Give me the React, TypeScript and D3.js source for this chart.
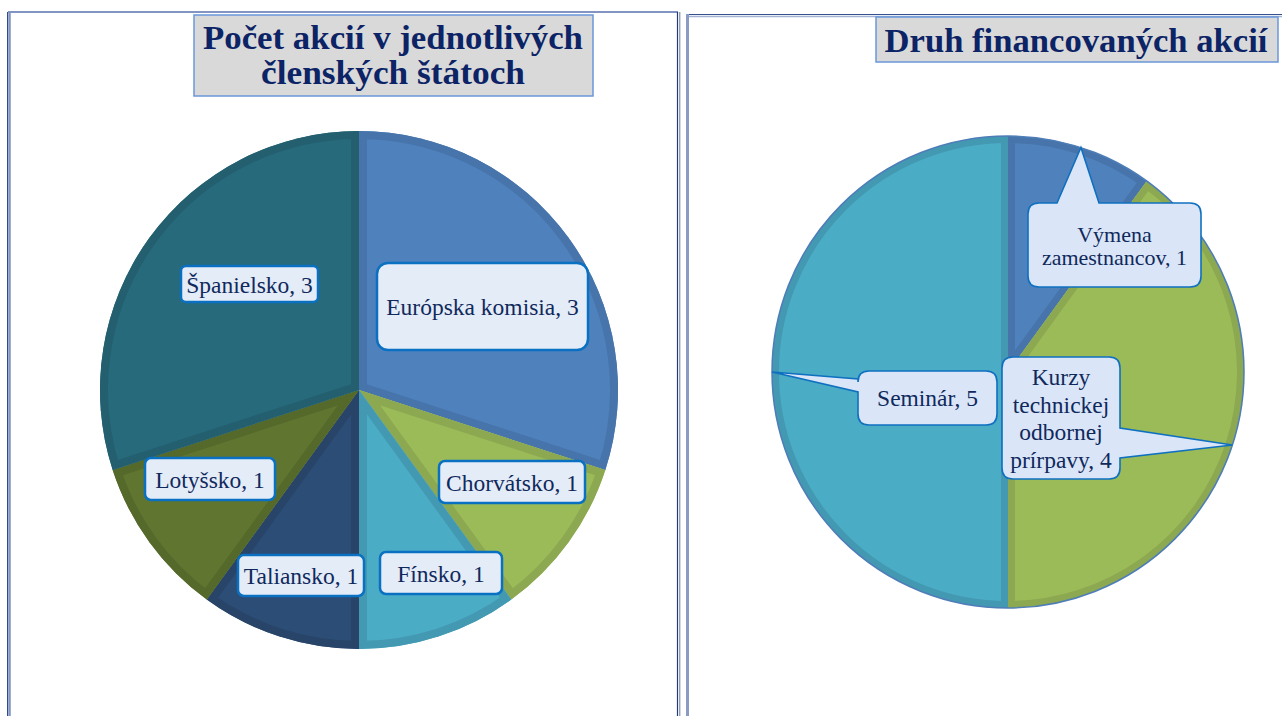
import React from "react";
import * as d3 from "d3";

// ---------- data ----------
const leftTitle = ["Počet akcií v jednotlivých", "členských štátoch"];
const leftCategories = ["Európska komisia", "Chorvátsko", "Fínsko", "Taliansko", "Lotyšsko", "Španielsko"];
const leftValues = [3, 1, 1, 1, 1, 3];

const rightTitle = "Druh financovaných akcií";
const rightCategories = ["Výmena zamestnancov", "Kurzy technickej odbornej prírpavy", "Seminár"];
const rightValues = [1, 4, 5];

// ---------- styles / layout ----------
const leftColors = ["#4F81BD", "#9BBB59", "#4BACC6", "#2C4D75", "#5F7530", "#276A7C"];
const leftBands = ["#4774AA", "#8CA850", "#4499B2", "#284569", "#55692B", "#235F6F"];
const rightColors = ["#4F81BD", "#9BBB59", "#4BACC6"];
const rightBands = ["#4774AA", "#8CA850", "#4499B2"];

// label boxes for left pie: center x, center y, width, height, radius
const leftLabelBoxes = [
  { cx: 482.5, cy: 306.5, w: 211, h: 87, r: 11 },
  { cx: 512, cy: 482, w: 146, h: 42, r: 6 },
  { cx: 441, cy: 573, w: 122, h: 42, r: 6 },
  { cx: 301, cy: 575.5, w: 126, h: 41, r: 6 },
  { cx: 210, cy: 479, w: 130, h: 42, r: 6 },
  { cx: 249.5, cy: 284, w: 137, h: 36, r: 5 },
];

// callouts for right pie
const rightCallouts = [
  { x: 1028, y: 203, w: 173, h: 84, side: "top", a: 1057, b: 1099, lines: ["Výmena", "zamestnancov, 1"], base: 242, lh: 23, fs: 22 },
  { x: 1002, y: 357, w: 118, h: 122, side: "right", a: 428, b: 458, lines: ["Kurzy", "technickej", "odbornej", "prírpavy, 4"], base: 385, lh: 27.7, fs: 23.5 },
  { x: 858, y: 371, w: 139, h: 54, side: "left", a: 379, b: 392, lines: ["Seminár, 5"], base: 406, lh: 27, fs: 23.5 },
];

const SERIF = "'Times New Roman', 'Liberation Serif', serif";
const TEXT_COLOR = "#10295C";
const TITLE_COLOR = "#0C2366";

function calloutPath(c: any, tip: [number, number]) {
  const { x, y, w, h } = c;
  const r = 11;
  let p = `M${x + r},${y}`;
  if (c.side === "top") p += `L${c.a},${y}L${tip[0]},${tip[1]}L${c.b},${y}`;
  p += `L${x + w - r},${y}Q${x + w},${y} ${x + w},${y + r}`;
  if (c.side === "right") p += `L${x + w},${c.a}L${tip[0]},${tip[1]}L${x + w},${c.b}`;
  p += `L${x + w},${y + h - r}Q${x + w},${y + h} ${x + w - r},${y + h}`;
  p += `L${x + r},${y + h}Q${x},${y + h} ${x},${y + h - r}`;
  if (c.side === "left") p += `L${x},${c.b}L${tip[0]},${tip[1]}L${x},${c.a}`;
  p += `L${x},${y + r}Q${x},${y} ${x + r},${y}Z`;
  return p;
}

function Pie({ id, cx, cy, R, values, colors, bands, band, outline }: any) {
  const pie = d3.pie<number>().sort(null).value((d) => d);
  const arcs = pie(values);
  const arc = d3.arc<d3.PieArcDatum<number>>().innerRadius(0).outerRadius(R);
  return (
    <g transform={`translate(${cx},${cy})`}>
      <defs>
        {arcs.map((a, i) => (
          <clipPath id={`${id}-clip-${i}`} key={i}>
            <path d={arc(a) || ""} />
          </clipPath>
        ))}
      </defs>
      {arcs.map((a, i) => (
        <g key={i}>
          <path d={arc(a) || ""} fill={colors[i]} />
          <path
            d={arc(a) || ""}
            fill="none"
            stroke={bands[i]}
            strokeWidth={band * 2}
            strokeLinejoin="miter"
            clipPath={`url(#${id}-clip-${i})`}
          />
        </g>
      ))}
      {outline && <circle r={R} fill="none" stroke={outline} strokeWidth={1.5} />}
    </g>
  );
}

export default function App() {
  const LCX = 359, LCY = 390, LR = 259;
  const RCX = 1008, RCY = 372, RR = 236;

  const rpie = d3.pie<number>().sort(null).value((d) => d)(rightValues);
  const tips: [number, number][] = rpie.map((a) => {
    const m = (a.startAngle + a.endAngle) / 2;
    return [RCX + RR * Math.sin(m), RCY - RR * Math.cos(m)];
  });

  return (
    <svg
      width={1282}
      height={716}
      style={{ position: "absolute", left: 0, top: 0, background: "#fff" }}
    >
      {/* panel frames */}
      <g>
        <line x1={9.5} y1={12} x2={9.5} y2={716} stroke="#8194C2" strokeWidth={2.5} />
        <line x1={7.5} y1={12} x2={7.5} y2={716} stroke="#2E4A8A" strokeWidth={1} />
        <line x1={8} y1={12} x2={678} y2={12} stroke="#8194C2" strokeWidth={2} />
        <line x1={677.5} y1={12} x2={677.5} y2={716} stroke="#243A70" strokeWidth={1.2} />
        <line x1={679.8} y1={12} x2={679.8} y2={716} stroke="#3E5488" strokeWidth={0.8} />

        <line x1={686} y1={14.5} x2={1282} y2={14.5} stroke="#34508E" strokeWidth={1.2} />
        <line x1={688} y1={16.5} x2={1282} y2={16.5} stroke="#A5B3D3" strokeWidth={1.5} />
        <line x1={687.5} y1={14} x2={687.5} y2={716} stroke="#8C9BC2" strokeWidth={3} />
      </g>

      <Pie id="lp" cx={LCX} cy={LCY} R={LR} values={leftValues} colors={leftColors} bands={leftBands} band={8} />
      <Pie id="rp" cx={RCX} cy={RCY} R={RR} values={rightValues} colors={rightColors} bands={rightBands} band={7} outline="#4E7DB8" />

      {/* titles */}
      <rect x={194} y={15} width={399} height={81} fill="#D9D9D9" stroke="#6A96DA" strokeWidth={1.5} />
      {leftTitle.map((t, i) => (
        <text
          key={i}
          x={393}
          y={49 + i * 35}
          textAnchor="middle"
          fontFamily={SERIF}
          fontWeight="bold"
          fontSize={34}
          fill={TITLE_COLOR}
          textLength={i === 0 ? 380 : 264}
          lengthAdjust="spacingAndGlyphs"
        >
          {t}
        </text>
      ))}
      <rect x={876} y={17} width={402} height={45} fill="#D9D9D9" stroke="#6A96DA" strokeWidth={1.5} />
      <text
        x={1076}
        y={52}
        textAnchor="middle"
        fontFamily={SERIF}
        fontWeight="bold"
        fontSize={34}
        fill={TITLE_COLOR}
        textLength={383}
        lengthAdjust="spacingAndGlyphs"
      >
        {rightTitle}
      </text>

      {/* left labels */}
      {leftCategories.map((c, i) => {
        const b = leftLabelBoxes[i];
        return (
          <g key={c}>
            <rect
              x={b.cx - b.w / 2}
              y={b.cy - b.h / 2}
              width={b.w}
              height={b.h}
              rx={b.r}
              fill="#E4ECF8"
              stroke="#0A70C2"
              strokeWidth={2.5}
            />
            <text
              x={b.cx}
              y={b.cy + 8.5}
              textAnchor="middle"
              fontFamily={SERIF}
              fontSize={23.5}
              fill={TEXT_COLOR}
            >
              {`${c}, ${leftValues[i]}`}
            </text>
          </g>
        );
      })}

      {/* right callouts */}
      {rightCallouts.map((c, i) => (
        <g key={i}>
          <path d={calloutPath(c, tips[i])} fill="#DAE6F8" stroke="#0F70C0" strokeWidth={1.6} />
          {c.lines.map((l, j) => (
            <text
              key={j}
              x={c.x + c.w / 2}
              y={c.base + j * c.lh}
              textAnchor="middle"
              fontFamily={SERIF}
              fontSize={c.fs}
              fill={TEXT_COLOR}
            >
              {l}
            </text>
          ))}
        </g>
      ))}
    </svg>
  );
}
